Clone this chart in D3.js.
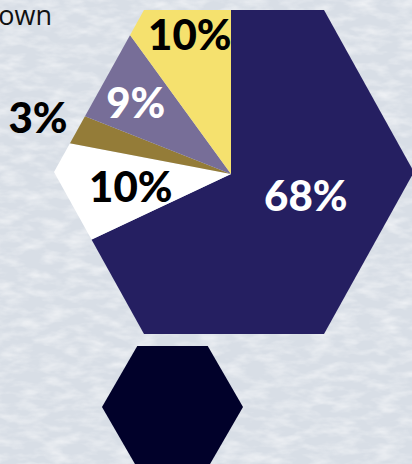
<!DOCTYPE html>
<html>
<head>
<meta charset="utf-8">
<script src="https://cdn.jsdelivr.net/npm/d3@7"></script>
<style>
  html, body { margin: 0; padding: 0; overflow: hidden; background: #dde3eb; }
  svg { display: block; }
</style>
</head>
<body>
<svg id="chart" width="412" height="464"></svg>
<script>
// Slice data, clockwise from 12 o'clock
const categories = ["A", "B", "C", "D", "E"];
const shares = [68, 10, 3, 9, 10];
const labels = ["68%", "10%", "3%", "9%", "10%"];
const sliceColors = ["#251f61", "#ffffff", "#947c38", "#776e98", "#f5e16e"];
const labelColors = ["#ffffff", "#000000", "#000000", "#ffffff", "#000000"];

// label placement (radius from pie centre, angle nudge in degrees)
const labelRadius = [78, 101, 201, 119, 145];
const labelNudge = [-16, 0, 0, -1, 1.5];

const W = 412, H = 464;
const svg = d3.select("#chart");

// paper-like background
const defs = svg.append("defs");
const tex = defs.append("filter").attr("id", "paper")
    .attr("x", 0).attr("y", 0).attr("width", "100%").attr("height", "100%");
tex.append("feTurbulence")
    .attr("type", "fractalNoise")
    .attr("baseFrequency", "0.045 0.11")
    .attr("numOctaves", 3)
    .attr("seed", 7);
tex.append("feColorMatrix")
    .attr("type", "matrix")
    .attr("values", "0 0 0 0 1  0 0 0 0 1  0 0 0 0 1  1.4 0 0 0 -0.55");

svg.append("rect").attr("width", W).attr("height", H).attr("fill", "#d8dee6");
svg.append("rect").attr("width", W).attr("height", H)
    .attr("filter", "url(#paper)").attr("opacity", 0.8);

// hexagon shape helper (flat top / bottom)
function hexPath(cx, cy, rx, ry) {
    const pts = [
        [cx - rx, cy], [cx - rx / 2, cy - ry], [cx + rx / 2, cy - ry],
        [cx + rx, cy], [cx + rx / 2, cy + ry], [cx - rx / 2, cy + ry]
    ];
    return d3.line()(pts) + "Z";
}

// big hexagon clip
defs.append("clipPath").attr("id", "hexClip")
    .append("path").attr("d", hexPath(234, 172, 180, 162));

// title (runs off the left edge, as in the original)
svg.append("text")
    .attr("x", 52).attr("y", 25)
    .attr("text-anchor", "end")
    .style("font-family", "'Open Sans', 'DejaVu Sans', sans-serif")
    .style("font-size", "27px")
    .style("fill", "#111")
    .text("Breakdown");

const cx = 231, cy = 174;
const pie = d3.pie().sort(null).value(d => d.value);
const arcs = pie(categories.map((c, i) => ({ cat: c, value: shares[i], i })));
const arc = d3.arc().innerRadius(0).outerRadius(260);

const g = svg.append("g").attr("clip-path", "url(#hexClip)");
g.append("g").attr("transform", `translate(${cx},${cy})`)
    .selectAll("path")
    .data(arcs)
    .enter().append("path")
    .attr("d", arc)
    .attr("fill", d => sliceColors[d.data.i]);

// labels
function labelAngle(d) {
    return (d.startAngle + d.endAngle) / 2 + labelNudge[d.data.i] * Math.PI / 180;
}
svg.append("g").attr("transform", `translate(${cx},${cy})`)
    .selectAll("text")
    .data(arcs)
    .enter().append("text")
    .attr("x", d => Math.sin(labelAngle(d)) * labelRadius[d.data.i])
    .attr("y", d => -Math.cos(labelAngle(d)) * labelRadius[d.data.i])
    .attr("dy", "0.36em")
    .attr("text-anchor", "middle")
    .style("font-family", "Lato, 'DejaVu Sans', sans-serif")
    .style("font-weight", 900)
    .style("font-size", "42px")
    .style("fill", d => labelColors[d.data.i])
    .text(d => labels[d.data.i]);

// small dark hexagon below
svg.append("path")
    .attr("d", hexPath(172.5, 407, 70.5, 61))
    .attr("fill", "#01012a");
</script>
</body>
</html>
